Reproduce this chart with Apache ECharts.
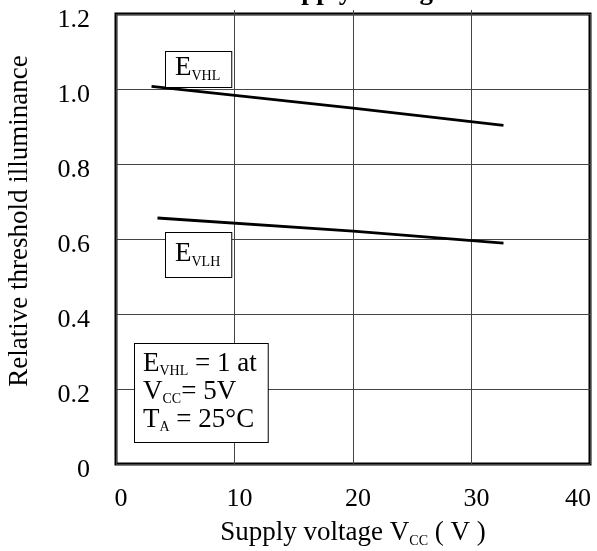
<!DOCTYPE html>
<html>
<head>
<meta charset="utf-8">
<script src="https://cdn.jsdelivr.net/npm/echarts@6/dist/echarts.min.js"></script>
<style>html,body{margin:0;padding:0;background:#fff}#c{width:597px;height:551px}</style>
</head>
<body>
<div id="c"></div>
<script>
// ---- data ----
const xTicks = [0, 10, 20, 30, 40];
const yTicks = [0, 0.2, 0.4, 0.6, 0.8, 1.0, 1.2];
const vccHL = [3, 20, 32.7];
const evhl = [1.007, 0.949, 0.903];
const vccLH = [3.5, 20, 32.7];
const evlh = [0.656, 0.621, 0.589];
const titleText = 'Supply Voltage';
const yName = 'Relative threshold illuminance';

const FONT = '"Liberation Serif", "Times New Roman", serif';
const chart = echarts.init(document.getElementById('c'), null, {renderer: 'canvas'});

const sub = {fontFamily: FONT, fontSize: 14, color: '#000', lineHeight: 4, verticalAlign: 'bottom'};
const big = {fontFamily: FONT, fontSize: 27, color: '#000', lineHeight: 30};
const tick = {fontFamily: FONT, fontSize: 26, color: '#000'};

chart.setOption({
  animation: false,
  backgroundColor: '#fff',
  grid: {left: 116, right: 7, top: 14, bottom: 87, show: true, borderColor: '#000', borderWidth: 3,
         backgroundColor: 'transparent', outerBoundsMode: 'none', containLabel: false},
  xAxis: [{
    type: 'value', min: 0, max: 40, interval: 10,
    axisLine: {show: false}, axisTick: {show: false},
    splitLine: {show: true, lineStyle: {color: '#444', width: 1}},
    axisLabel: {
      margin: 22, fontFamily: FONT, fontSize: 26, color: '#000',
      formatter: function (v) { return v === 0 ? '{l|0}' : (v === 40 ? '{r|40}' : '{m|' + v + '}'); },
      rich: {
        l: Object.assign({}, tick, {padding: [0, 0, 0, 10]}),
        r: Object.assign({}, tick, {padding: [0, 24, 0, 0]}),
        m: Object.assign({}, tick, {padding: [0, 0, 0, 10]})
      }
    },
    name: '{n|Supply voltage V}{s|CC}{n| ( V )}',
    nameLocation: 'middle', nameGap: 54,
    nameTextStyle: {rich: {n: big, s: sub}}
  }, {
    type: 'value', min: 0, max: 40, interval: 10, position: 'top',
    axisLine: {show: false}, axisLabel: {show: false}, splitLine: {show: false},
    axisTick: {show: true, inside: false, length: 4, customValues: [10, 20, 30], lineStyle: {color: '#444', width: 1}}
  }],
  yAxis: {
    type: 'value', min: 0, max: 1.2, interval: 0.2,
    axisLine: {show: false}, axisTick: {show: false},
    splitLine: {show: true, lineStyle: {color: '#444', width: 1}},
    axisLabel: {
      margin: 26, fontFamily: FONT, fontSize: 26, color: '#000', verticalAlign: 'top', lineHeight: 12,
      formatter: function (v) { return v === 0 ? '0' : v.toFixed(1); }
    },
    name: yName, nameLocation: 'middle', nameGap: 83,
    nameTextStyle: {fontFamily: FONT, fontSize: 27, color: '#000', padding: [0, 0, 0, 36]}
  },
  series: [{
    type: 'line', data: vccHL.map((x, i) => [x, evhl[i]]), symbol: 'none',
    lineStyle: {color: '#000', width: 3}
  }, {
    type: 'line', data: vccLH.map((x, i) => [x, evlh[i]]), symbol: 'none',
    lineStyle: {color: '#000', width: 3}
  }],
  graphic: [
    {type: 'text', x: 358, y: -8, z: 100, style: {text: titleText, font: 'bold 27px ' + FONT, fill: '#000', align: 'center', verticalAlign: 'middle'}},
    {type: 'text', x: 166, y: 52, z: 100, style: {
      text: '{e|E}{s|VHL}', rich: {e: big, s: sub}, align: 'left', verticalAlign: 'top',
      backgroundColor: '#fff', borderColor: '#000', borderWidth: 1, padding: [1, 11, 4, 9]}},
    {type: 'text', x: 166, y: 233, z: 100, style: {
      text: '{e|E}{s|VLH}', rich: {e: big, s: sub}, align: 'left', verticalAlign: 'top',
      backgroundColor: '#fff', borderColor: '#000', borderWidth: 1, padding: [6, 11, 8, 9]}},
    {type: 'text', x: 135, y: 344, z: 100, style: {
      text: '{e|E}{s|VHL}{e| = 1 at}\n{e|V}{s|CC}{e|= 5V}\n{e|T}{s|A}{e| = 25°C}',
      rich: {e: {fontFamily: FONT, fontSize: 27, color: '#000', lineHeight: 28}, s: sub},
      align: 'left', verticalAlign: 'top',
      backgroundColor: '#fff', borderColor: '#000', borderWidth: 1, padding: [6, 11, 8, 8]}}
  ]
});
</script>
</body>
</html>
